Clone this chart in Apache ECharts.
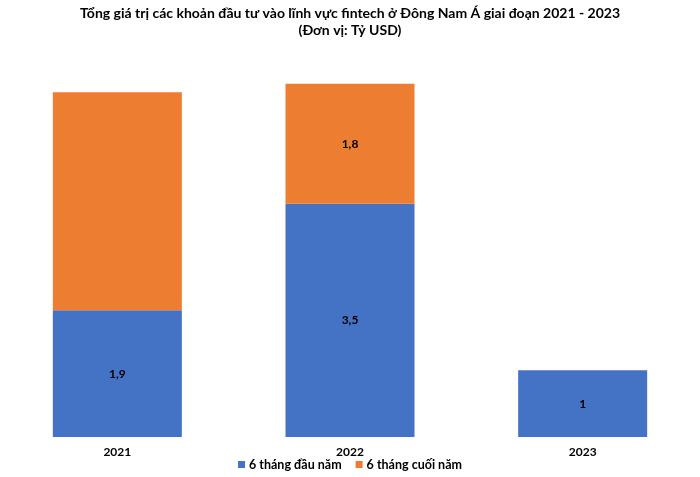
<!DOCTYPE html>
<html><head><meta charset="utf-8">
<script src="https://cdn.jsdelivr.net/npm/echarts@6/dist/echarts.min.js"></script>
<style>html,body{margin:0;padding:0;background:#fff}#c{width:700px;height:477px}</style>
</head><body><div id="c"></div>
<script>
var categories = ['2021', '2022', '2023'];
var firstHalf = [1.9, 3.5, 1.0];
var secondHalf = [3.27, 1.8, null];
var firstLabels = ['1,9', '3,5', '1'];
var secondLabels = ['', '1,8', ''];
var seriesNames = ['6 tháng đầu năm', '6 tháng cuối năm'];
var titleText = 'Tổng giá trị các khoản đầu tư vào lĩnh vực fintech ở Đông Nam Á giai đoạn 2021 - 2023\n(Đơn vị: Tỷ USD)';

var font = 'Lato';
var chart = echarts.init(document.getElementById('c'));
chart.setOption({
  animation: false,
  title: {
    text: titleText, left: 'center', top: 0,
    textStyle: {fontFamily: font, fontSize: 14, fontWeight: 'bold', color: '#000', lineHeight: 17}
  },
  legend: {
    bottom: 1, left: 'center', itemWidth: 7, itemHeight: 7, itemGap: 14,
    icon: 'rect',
    textStyle: {fontFamily: font, fontSize: 12.5, fontWeight: 'bold', color: '#000', padding: [0,0,0,-1]},
    data: seriesNames
  },
  grid: {left: 1, right: 1, top: 37, bottom: 40, containLabel: false},
  xAxis: {
    type: 'category', data: categories,
    axisLine: {show: false}, axisTick: {show: false},
    axisLabel: {fontFamily: font, fontSize: 12, fontWeight: 'bold', color: '#000', margin: 9}
  },
  yAxis: {type: 'value', min: 0, max: 6, show: false, splitLine: {show: false}},
  series: [
    {
      name: seriesNames[0], type: 'bar', stack: 's', barWidth: 129,
      itemStyle: {color: '#4472C4'},
      data: firstHalf,
      label: {show: true, position: 'inside', fontFamily: font, fontSize: 12, fontWeight: 'bold', color: '#000',
        formatter: function (p) { return firstLabels[p.dataIndex]; }}
    },
    {
      name: seriesNames[1], type: 'bar', stack: 's', barWidth: 129,
      itemStyle: {color: '#ED7D31'},
      data: secondHalf,
      label: {show: true, position: 'inside', fontFamily: font, fontSize: 12, fontWeight: 'bold', color: '#000',
        formatter: function (p) { return secondLabels[p.dataIndex]; }}
    }
  ]
});
</script></body></html>
